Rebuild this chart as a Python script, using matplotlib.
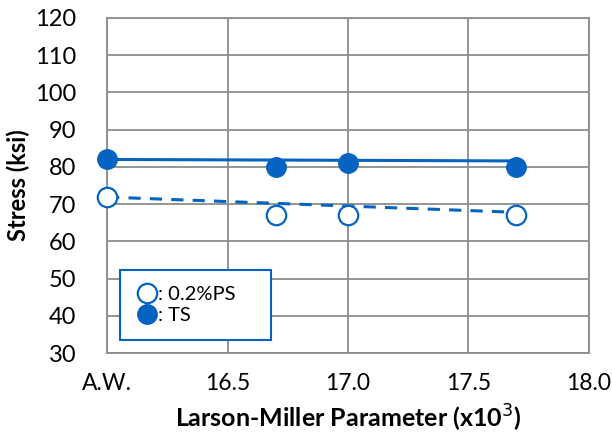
import numpy as np
import matplotlib.pyplot as plt
from matplotlib.lines import Line2D

plt.rcParams['font.family'] = ['Lato', 'DejaVu Sans']

# data
lmp = [16.0, 16.7, 17.0, 17.7]
ts = [82, 80, 81, 80]
ps = [72, 67, 67, 67]
# hand-drawn guide lines (start / end)
line_x = [16.0, 17.7]
ts_line = [82.0, 81.6]
ps_line = [71.9, 67.8]

x_ticks = [16.0, 16.5, 17.0, 17.5, 18.0]
x_labels = ['A.W.', '16.5', '17.0', '17.5', '18.0']
y_ticks = list(range(30, 121, 10))

blue = '#0563C1'
grid = '#8c8c8c'

fig = plt.figure(figsize=(6.12, 4.36), dpi=100)
ax = fig.add_axes([0.175, 0.19, 0.787, 0.769])

ax.plot(line_x, ts_line, color=blue, lw=2.2, zorder=3)
ax.plot(line_x, ps_line, color=blue, lw=2.2, ls=(0, (4, 3)), zorder=3)
ax.plot(lmp, ts, 'o', ms=14, color=blue, mec=blue, zorder=4, clip_on=False)
ax.plot(lmp, ps, 'o', ms=14, mfc='white', mec=blue, mew=1.6, zorder=4, clip_on=False)

ax.set_xlim(16.0, 18.0)
ax.set_ylim(30, 120)
ax.set_xticks(x_ticks)
ax.set_xticklabels(x_labels)
ax.set_yticks(y_ticks)
ax.tick_params(axis='x', length=0, labelsize=16.5, pad=14)
ax.tick_params(axis='y', length=0, labelsize=17, pad=22)
ax.grid(True, color=grid, lw=1.3)
for s in ax.spines.values():
    s.set_color(grid)
    s.set_linewidth(1.3)

ax.set_xlabel('Larson-Miller Parameter (x10$^{3}$)', fontsize=18, fontweight='bold', labelpad=7)
ax.set_ylabel('Stress (ksi)', fontsize=17, fontweight='bold', labelpad=4)

handles = [
    Line2D([], [], ls='none', marker='o', ms=14, mfc='white', mec=blue, mew=1.6),
    Line2D([], [], ls='none', marker='o', ms=14, color=blue),
]
leg = ax.legend(handles, [': 0.2%PS', ': TS'], loc='lower left',
                bbox_to_anchor=(0.027, 0.039, 0.314, 0.233), mode='expand',
                fontsize=14.5, handletextpad=0.0, handlelength=1.1,
                borderaxespad=0, fancybox=False, framealpha=1,
                labelspacing=0.2, borderpad=0.8)
leg.get_frame().set_edgecolor(blue)
leg.get_frame().set_linewidth(1.5)

fig.savefig('out.png', dpi=100)
